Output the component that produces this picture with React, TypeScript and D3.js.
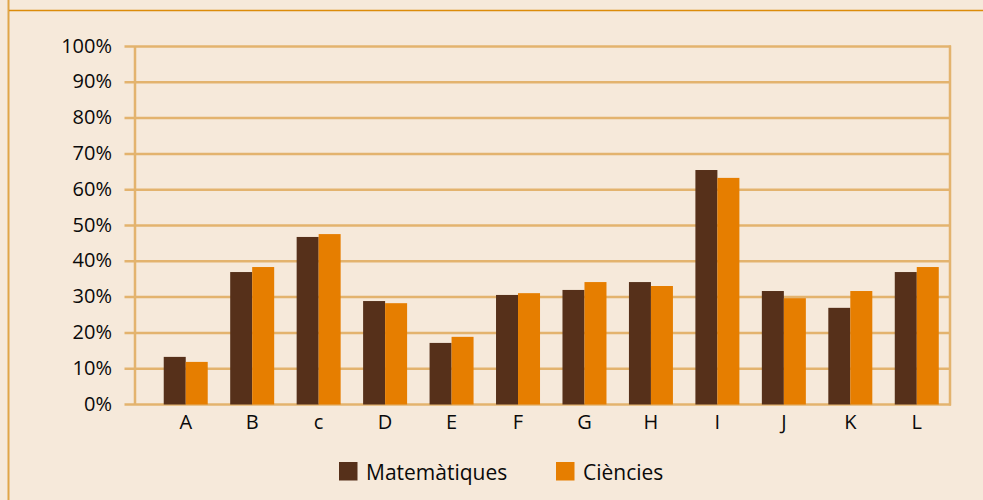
import React from "react";
import * as d3 from "d3";

const categories = ["A", "B", "c", "D", "E", "F", "G", "H", "I", "J", "K", "L"];
const matematiques = [13.3, 37.0, 46.8, 28.9, 17.2, 30.6, 32.0, 34.2, 65.5, 31.7, 27.0, 37.0];
const ciencies = [11.9, 38.4, 47.6, 28.3, 18.9, 31.1, 34.2, 33.1, 63.3, 29.7, 31.7, 38.4];
const seriesNames = ["Matemàtiques", "Ciències"];
const yTicks = [0, 10, 20, 30, 40, 50, 60, 70, 80, 90, 100];

const W = 983;
const H = 500;
const BG = "#f6e9da";
const GRID = "#e3b36e";
const COLORS = ["#56301a", "#e67e00"];
const FONT = "'Open Sans', 'Noto Sans', sans-serif";

export default function App() {
  const y = d3.scaleLinear().domain([0, 100]).range([404.5, 46.5]);
  const x = d3
    .scaleBand<string>()
    .domain(categories)
    .range([152.5, 950])
    .paddingInner(0.338)
    .paddingOuter(0.169);
  const xs = d3.scaleBand<string>().domain(seriesNames).range([0, x.bandwidth()]);
  const data = [matematiques, ciencies];

  const axisX = 135;
  const rightX = 950;
  const tickLeft = 124.5;

  return (
    <svg
      width={W}
      height={H}
      style={{ position: "absolute", left: 0, top: 0, display: "block" }}
      fontFamily={FONT}
    >
      <rect x={0} y={0} width={W} height={H} fill={BG} />
      {/* frame lines */}
      <line x1={8.5} x2={8.5} y1={0} y2={H} stroke="#e0a548" strokeWidth={2} />
      <line x1={9} x2={W} y1={10.5} y2={10.5} stroke="#dc8c0a" strokeWidth={1.5} />

      {/* gridlines */}
      {yTicks.map((t) => (
        <line
          key={"g" + t}
          x1={tickLeft}
          x2={rightX + 1}
          y1={y(t)}
          y2={y(t)}
          stroke={GRID}
          strokeWidth={2.5}
        />
      ))}
      <line x1={axisX} x2={axisX} y1={y(100)} y2={y(0)} stroke={GRID} strokeWidth={2.5} />
      <line x1={rightX} x2={rightX} y1={y(100) - 1} y2={y(0) + 1} stroke={GRID} strokeWidth={2.5} />

      {/* y tick labels */}
      {yTicks.map((t) => (
        <text
          key={"t" + t}
          x={112}
          y={y(t) + 6}
          textAnchor="end"
          fontSize={20}
          fill="#0a0a0a"
        >
          {t}%
        </text>
      ))}

      {/* bars */}
      {categories.map((c, i) => (
        <g key={c} transform={`translate(${x(c)},0)`}>
          {seriesNames.map((s, j) => (
            <rect
              key={s}
              x={xs(s)}
              y={y(data[j][i])}
              width={xs.bandwidth()}
              height={y(0) - y(data[j][i])}
              fill={COLORS[j]}
            />
          ))}
        </g>
      ))}

      {/* category labels */}
      {categories.map((c) => (
        <text
          key={"c" + c}
          x={(x(c) as number) + x.bandwidth() / 2}
          y={429}
          textAnchor="middle"
          fontSize={20}
          fill="#0a0a0a"
        >
          {c}
        </text>
      ))}

      {/* legend */}
      {seriesNames.map((s, j) => {
        const lx = [339, 556][j];
        return (
          <g key={"l" + s}>
            <rect x={lx} y={462} width={18.5} height={18.5} fill={COLORS[j]} />
            <text x={lx + 27} y={480} fontSize={21} fill="#0a0a0a">
              {s}
            </text>
          </g>
        );
      })}
    </svg>
  );
}
